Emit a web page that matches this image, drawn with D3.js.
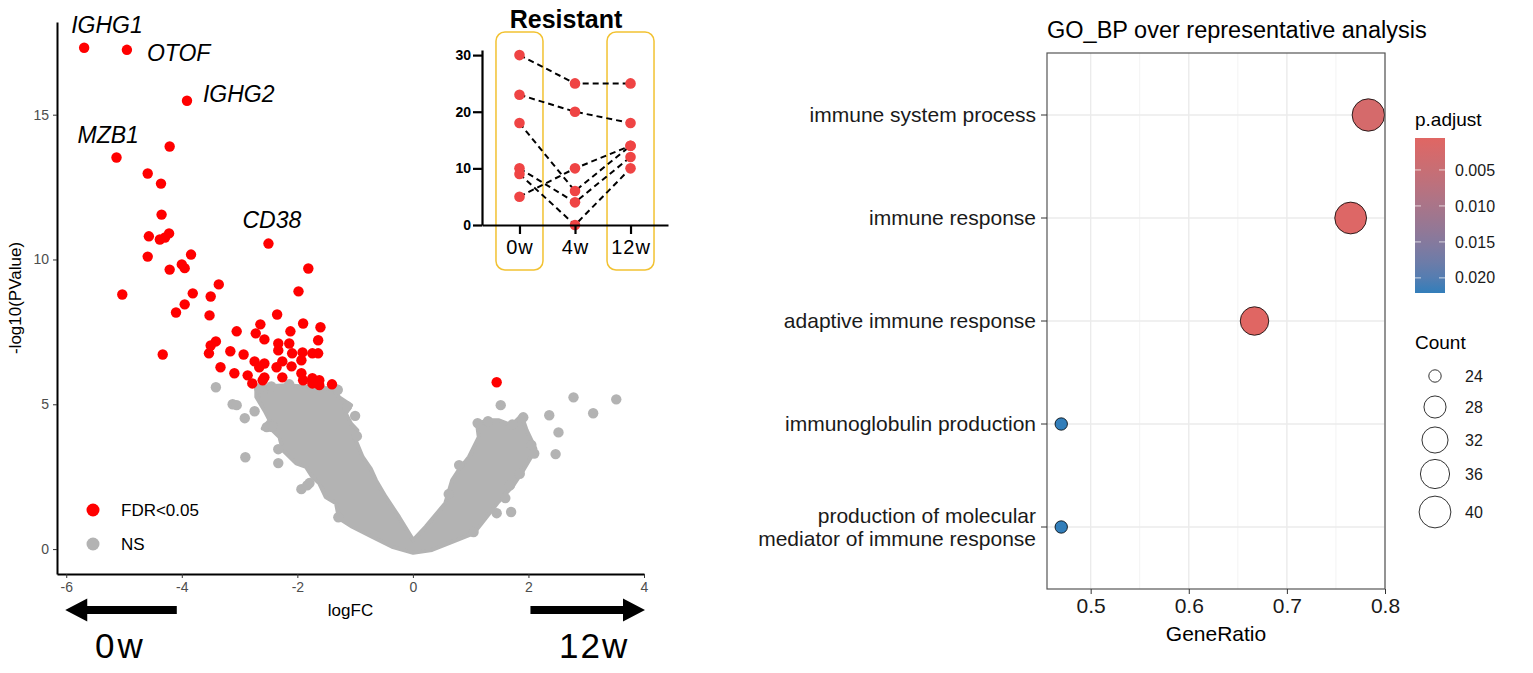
<!DOCTYPE html>
<html lang="en">
  <head>
    <meta charset="UTF-8" />
    <title>volcano + GO_BP dotplot</title>
    <script src="https://d3js.org/d3.v7.min.js"></script>
    <style>
      body { margin: 0; background: #fff; }
      svg { display: block; font-family: "Liberation Sans", Arial, sans-serif; }
    </style>
  </head>
  <body>
    <svg width="1533" height="673"></svg>

    <script>
      // ---------- volcano: significant genes [logFC, -log10(P)] ----------
      const sigPoints = [
        [-5.69, 17.31], [-4.95, 17.24], [-3.91, 15.48], [-5.13, 13.52], [-4.21, 13.9],
        [-4.59, 12.97], [-4.36, 12.62], [-4.35, 11.55], [-4.57, 10.8], [-4.38, 10.69],
        [-4.29, 10.76], [-4.22, 10.9], [-4.59, 10.1], [-3.84, 10.17], [-4.0, 9.83],
        [-3.95, 9.7], [-4.21, 9.65], [-2.5, 10.55], [-1.81, 9.69], [-5.03, 8.79],
        [-3.36, 9.14], [-3.81, 8.83], [-3.5, 8.72], [-1.98, 8.9], [-3.95, 8.45],
        [-4.1, 8.17], [-3.52, 8.07], [-2.35, 8.1], [-2.64, 7.76], [-1.9, 7.79],
        [-1.6, 7.66], [-3.05, 7.52], [-2.72, 7.45], [-2.12, 7.52], [-2.57, 7.24],
        [-1.64, 7.21], [-3.41, 7.17], [-3.5, 7.03], [-2.33, 7.1], [-2.14, 7.1],
        [-4.33, 6.72], [-3.53, 6.76], [-3.16, 6.83], [-2.93, 6.72], [-2.33, 6.86],
        [-2.09, 6.76], [-1.91, 6.79], [-1.74, 6.76], [-1.64, 6.76], [-2.74, 6.48],
        [-2.57, 6.41], [-2.26, 6.48], [-1.93, 6.52], [-3.33, 6.28], [-2.66, 6.28],
        [-2.36, 6.28], [-2.1, 6.31], [-3.09, 6.07], [-2.86, 6.0], [-2.57, 5.93],
        [-2.26, 5.93], [-1.93, 6.07], [-2.78, 5.72], [-2.6, 5.83], [-1.9, 5.83],
        [-1.74, 5.9], [-1.62, 5.83], [-1.62, 5.66], [-1.4, 5.69], [-1.74, 5.72],
        [1.45, 5.76]
      ];
      // NS genes lying outside / on the edge of the dense cloud
      const nsPoints = [
        [-3.41, 5.59], [-3.12, 5.0], [-3.05, 4.97], [-2.91, 4.52], [-2.74, 4.76],
        [-2.9, 3.17], [-2.33, 3.45], [-2.33, 2.97], [-1.93, 2.07], [-1.79, 2.28],
        [-2.53, 4.21], [-2.43, 4.24], [-1.29, 1.1], [-1.14, 4.93], [-2.14, 5.69],
        [-2.6, 5.41], [2.78, 5.24], [3.52, 5.17], [3.12, 4.69], [2.36, 4.62],
        [2.52, 4.03], [2.47, 3.28], [1.52, 4.97], [1.6, 1.76], [1.7, 1.28],
        [1.45, 1.24], [1.91, 4.55], [1.05, 0.59], [-1.83, 2.2], [-2.66, 5.55],
        [-2.45, 5.62], [-1.3, 5.5], [-1.0, 4.6], [-0.97, 3.9], [1.12, 4.35],
        [1.3, 4.42], [1.72, 4.3], [2.05, 3.6], [2.1, 3.3], [1.85, 2.6],
        [1.68, 2.2], [0.62, 1.9], [0.8, 2.9]
      ];
      // outline of the dense NS cloud (thousands of overlapping points)
      const nsCloud = [
        [0.005, -0.13], [-0.36, 0.08], [-0.7, 0.42], [-1.05, 0.77], [-1.28, 1.06],
        [-1.33, 1.58], [-1.51, 1.8], [-1.62, 2.27], [-1.74, 2.49], [-1.85, 2.84],
        [-2.02, 2.96], [-2.25, 3.41], [-2.31, 3.87], [-2.43, 4.1], [-2.6, 4.16],
        [-2.48, 4.45], [-2.57, 4.79], [-2.71, 5.25], [-2.71, 5.6], [-2.19, 5.66],
        [-1.36, 5.54], [-1.28, 5.25], [-1.07, 4.97], [-1.16, 4.68], [-1.07, 4.33],
        [-0.96, 4.1], [-0.99, 3.76], [-0.87, 3.18], [-0.73, 2.78], [-0.64, 2.38],
        [-0.47, 1.8], [-0.24, 1.11], [0.005, 0.31], [0.22, 0.77], [0.56, 1.58],
        [0.68, 2.38], [0.79, 2.72], [0.97, 3.18], [1.14, 3.87], [1.11, 4.33],
        [1.31, 4.45], [1.48, 4.45], [1.71, 4.28], [1.88, 4.62], [1.97, 4.1],
        [2.12, 3.47], [2.03, 3.13], [1.91, 2.72], [1.74, 2.21], [1.48, 1.63],
        [1.19, 0.89], [1.05, 0.54], [0.68, 0.25], [0.33, -0.03]
      ];
      const geneNames = ["IGHG1", "OTOF", "IGHG2", "MZB1", "CD38"];
      const geneLogFC = [-5.69, -4.95, -3.91, -5.13, -2.5];
      const geneNegLogP = [17.31, 17.24, 15.48, 13.52, 10.55];
      const volcanoXTicks = [-6, -4, -2, 0, 2, 4];
      const volcanoYTicks = [0, 5, 10, 15];
      const volcanoLegend = ["FDR<0.05", "NS"];

      // ---------- inset: Resistant ----------
      const timepoints = ["0w", "4w", "12w"];
      const patientValues = [
        [30, 25, 25],
        [23, 20, 18],
        [18, 6, 14],
        [10, 4, 12],
        [9, 0, 10],
        [5, 10, 14]
      ];
      const insetYTicks = [0, 10, 20, 30];

      // ---------- GO_BP dotplot ----------
      const goTerms = [
        "immune system process",
        "immune response",
        "adaptive immune response",
        "immunoglobulin production",
        "production of molecular mediator of immune response"
      ];
      const geneRatio = [0.783, 0.765, 0.667, 0.47, 0.47];
      const geneCount = [41, 40, 35, 24, 24];
      const pAdjust = [0.0025, 0.0012, 0.00056, 0.0221, 0.0221];
      const ratioTicks = [0.5, 0.6, 0.7, 0.8];
      const ratioMinor = [0.55, 0.65, 0.75];
      const pTicks = [0.005, 0.01, 0.015, 0.02];
      const countBreaks = [24, 28, 32, 36, 40];

      const svg = d3.select("svg");
      svg.append("rect").attr("width", 1533).attr("height", 673).attr("fill", "white");

      // ================= volcano =================
      const x = d3.scaleLinear().domain([-6.16, 4]).range([57, 644]);
      const y = d3.scaleLinear().domain([-0.86, 18.2]).range([574, 22]);
      const volcano = svg.append("g");

      volcano
        .append("path")
        .datum(nsCloud)
        .attr("d", d3.line().x((d) => x(d[0])).y((d) => y(d[1])).curve(d3.curveLinearClosed))
        .attr("fill", "#b3b3b3")
        .attr("stroke", "#b3b3b3")
        .attr("stroke-width", 4)
        .attr("stroke-linejoin", "round");

      volcano
        .selectAll(".ns")
        .data(nsPoints)
        .enter()
        .append("circle")
        .attr("cx", (d) => x(d[0]))
        .attr("cy", (d) => y(d[1]))
        .attr("r", 5.2)
        .attr("fill", "#b3b3b3");

      volcano
        .selectAll(".sig")
        .data(sigPoints)
        .enter()
        .append("circle")
        .attr("cx", (d) => x(d[0]))
        .attr("cy", (d) => y(d[1]))
        .attr("r", 5.2)
        .attr("fill", "#ff0000");

      // gene labels, nudged like ggrepel did
      const nudge = [[-13, -15], [20, 11], [16, 1], [-39, -15], [-26, -16]];
      volcano
        .selectAll(".gene")
        .data(geneNames)
        .enter()
        .append("text")
        .attr("x", (d, i) => x(geneLogFC[i]) + nudge[i][0])
        .attr("y", (d, i) => y(geneNegLogP[i]) + nudge[i][1])
        .attr("font-size", 23)
        .attr("font-style", "italic")
        .text((d) => d);

      const xAxis = volcano
        .append("g")
        .attr("transform", "translate(0,574)")
        .call(d3.axisBottom(x).tickValues(volcanoXTicks).tickSize(4).tickSizeOuter(0).tickPadding(4).tickFormat((d) => String(d)));
      const yAxis = volcano
        .append("g")
        .attr("transform", "translate(57,0)")
        .call(d3.axisLeft(y).tickValues(volcanoYTicks).tickSize(4).tickSizeOuter(0).tickPadding(4).tickFormat((d) => String(d)));
      [xAxis, yAxis].forEach((a) => {
        a.select(".domain").attr("stroke", "black").attr("stroke-width", 2);
        a.selectAll(".tick line").attr("stroke", "#333");
        a.selectAll(".tick text").attr("fill", "#4d4d4d").attr("font-size", 14).attr("font-family", "Liberation Sans, Arial");
      });

      volcano
        .append("text")
        .attr("transform", "translate(21,298) rotate(-90)")
        .attr("text-anchor", "middle")
        .attr("font-size", 17)
        .text("-log10(PValue)");
      volcano
        .append("text")
        .attr("x", (57 + 644) / 2)
        .attr("y", 616)
        .attr("text-anchor", "middle")
        .attr("font-size", 17)
        .text("logFC");

      // legend
      const legendColors = ["#ff0000", "#b3b3b3"];
      volcanoLegend.forEach((lab, i) => {
        volcano.append("circle").attr("cx", 93).attr("cy", 510 + i * 34).attr("r", 6.5).attr("fill", legendColors[i]);
        volcano
          .append("text")
          .attr("x", 121)
          .attr("y", 510 + i * 34)
          .attr("dy", "0.35em")
          .attr("font-size", 17)
          .text(lab);
      });

      // direction arrows
      const arrowY = 610;
      const leftTip = x(-6) - 1, leftTail = x(-4) - 5;
      const rightTail = x(2) + 2, rightTip = x(4) + 1;
      volcano
        .append("path")
        .attr("d", `M${leftTail},${arrowY - 4}H${leftTip + 22}V${arrowY - 11.5}L${leftTip},${arrowY}L${leftTip + 22},${arrowY + 11.5}V${arrowY + 4}H${leftTail}Z`)
        .attr("fill", "black");
      volcano
        .append("path")
        .attr("d", `M${rightTail},${arrowY - 4}H${rightTip - 22}V${arrowY - 11.5}L${rightTip},${arrowY}L${rightTip - 22},${arrowY + 11.5}V${arrowY + 4}H${rightTail}Z`)
        .attr("fill", "black");
      volcano.append("text").attr("x", 95).attr("y", 658).attr("font-size", 35).attr("letter-spacing", 3).text("0w");
      volcano.append("text").attr("x", 559).attr("y", 658).attr("font-size", 35).attr("letter-spacing", 2).text("12w");

      // ================= inset =================
      const ix = d3.scalePoint().domain(timepoints).range([482, 668]).padding(0.675);
      const iy = d3.scaleLinear().domain([0, 30.9]).range([225, 50]);
      const inset = svg.append("g");

      ["0w", "12w"].forEach((t) => {
        inset
          .append("rect")
          .attr("x", ix(t) - 23.5)
          .attr("y", 32)
          .attr("width", 47)
          .attr("height", 238)
          .attr("rx", 9)
          .attr("fill", "none")
          .attr("stroke", "#f2c232")
          .attr("stroke-width", 1.5);
      });

      inset
        .selectAll(".pair")
        .data(patientValues)
        .enter()
        .append("path")
        .attr("d", d3.line().x((d, i) => ix(timepoints[i])).y((d) => iy(d)))
        .attr("fill", "none")
        .attr("stroke", "black")
        .attr("stroke-width", 2)
        .attr("stroke-dasharray", "6,4");

      patientValues.forEach((vals) => {
        inset
          .selectAll(null)
          .data(vals)
          .enter()
          .append("circle")
          .attr("cx", (d, i) => ix(timepoints[i]))
          .attr("cy", (d) => iy(d))
          .attr("r", 5.3)
          .attr("fill", "#ef4444");
      });

      const ixAxis = inset
        .append("g")
        .attr("transform", "translate(0,225)")
        .call(d3.axisBottom(ix).tickSize(9).tickSizeOuter(0).tickPadding(6));
      const iyAxis = inset
        .append("g")
        .attr("transform", "translate(482,0)")
        .call(d3.axisLeft(iy).tickValues(insetYTicks).tickSize(9).tickSizeOuter(0).tickPadding(2));
      [ixAxis, iyAxis].forEach((a) => {
        a.select(".domain").attr("stroke", "black").attr("stroke-width", 2.2);
        a.selectAll(".tick line").attr("stroke", "black").attr("stroke-width", 2.2);
        a.selectAll(".tick text").attr("fill", "black").attr("font-family", "Liberation Sans, Arial");
      });
      ixAxis.selectAll(".tick text").attr("font-size", 20).attr("letter-spacing", 1);
      iyAxis.selectAll(".tick text").attr("font-size", 14).attr("font-weight", "bold");

      inset
        .append("text")
        .attr("x", 566)
        .attr("y", 28)
        .attr("text-anchor", "middle")
        .attr("font-size", 25)
        .attr("font-weight", "bold")
        .text("Resistant");

      // ================= GO_BP dotplot =================
      const panel = { left: 1047, right: 1385, top: 53, bottom: 589 };
      const gx = d3.scaleLinear().domain([0.4555, 0.8]).range([panel.left, panel.right]);
      const gy = d3.scalePoint().domain(goTerms).range([115, 527]);
      const pColor = d3
        .scaleLinear()
        .domain([0.00056, 0.0221])
        .range(["#e06663", "#327eba"])
        .interpolate(d3.interpolateLab);
      const countMin = 24, countMax = 41;
      const rScale = d3.scaleSqrt().domain([0, countMax - countMin]).range([6.2, 16.2]);

      const go = svg.append("g");

      go.selectAll(".minor")
        .data(ratioMinor)
        .enter()
        .append("line")
        .attr("x1", (d) => gx(d))
        .attr("x2", (d) => gx(d))
        .attr("y1", panel.top)
        .attr("y2", panel.bottom)
        .attr("stroke", "#f3f3f3")
        .attr("stroke-width", 1);
      go.selectAll(".major")
        .data(ratioTicks)
        .enter()
        .append("line")
        .attr("x1", (d) => gx(d))
        .attr("x2", (d) => gx(d))
        .attr("y1", panel.top)
        .attr("y2", panel.bottom)
        .attr("stroke", "#ebebeb")
        .attr("stroke-width", 1.4);
      go.selectAll(".hgrid")
        .data(goTerms)
        .enter()
        .append("line")
        .attr("x1", panel.left)
        .attr("x2", panel.right)
        .attr("y1", (d) => gy(d))
        .attr("y2", (d) => gy(d))
        .attr("stroke", "#ebebeb")
        .attr("stroke-width", 1.4);

      go.selectAll(".dot")
        .data(goTerms)
        .enter()
        .append("circle")
        .attr("cx", (d, i) => gx(geneRatio[i]))
        .attr("cy", (d) => gy(d))
        .attr("r", (d, i) => rScale(geneCount[i] - countMin))
        .attr("fill", (d, i) => pColor(pAdjust[i]))
        .attr("stroke", "black")
        .attr("stroke-width", 0.8);

      go.append("rect")
        .attr("x", panel.left)
        .attr("y", panel.top)
        .attr("width", panel.right - panel.left)
        .attr("height", panel.bottom - panel.top)
        .attr("fill", "none")
        .attr("stroke", "#555")
        .attr("stroke-width", 1.2);

      // y axis (terms)
      goTerms.forEach((term) => {
        go.append("line")
          .attr("x1", panel.left - 6)
          .attr("x2", panel.left)
          .attr("y1", gy(term))
          .attr("y2", gy(term))
          .attr("stroke", "#333");
        let lines = [term];
        if (term.length > 30) {
          const mid = term.length / 2;
          let best = -1;
          for (let k = 0; k < term.length; k++) {
            if (term[k] === " " && (best < 0 || Math.abs(k - mid) < Math.abs(best - mid))) best = k;
          }
          lines = [term.slice(0, best), term.slice(best + 1)];
        }
        const t = go
          .append("text")
          .attr("x", panel.left - 11)
          .attr("y", gy(term))
          .attr("text-anchor", "end")
          .attr("font-size", 21)
          .attr("fill", "#1a1a1a");
        lines.forEach((ln, k) => {
          t.append("tspan")
            .attr("x", panel.left - 11)
            .attr("dy", k === 0 ? (0.35 - (lines.length - 1) * 0.55) + "em" : "1.1em")
            .text(ln);
        });
      });

      // x axis
      const gxAxis = go
        .append("g")
        .attr("transform", `translate(0,${panel.bottom})`)
        .call(d3.axisBottom(gx).tickValues(ratioTicks).tickSize(5).tickSizeOuter(0).tickPadding(4).tickFormat(d3.format(".1f")));
      gxAxis.select(".domain").remove();
      gxAxis.selectAll(".tick line").attr("stroke", "#333");
      gxAxis.selectAll(".tick text").attr("fill", "#1a1a1a").attr("font-size", 21).attr("font-family", "Liberation Sans, Arial");

      go.append("text")
        .attr("x", (panel.left + panel.right) / 2)
        .attr("y", 641)
        .attr("text-anchor", "middle")
        .attr("font-size", 21)
        .text("GeneRatio");
      go.append("text")
        .attr("x", panel.left)
        .attr("y", 38)
        .attr("font-size", 23.5)
        .text("GO_BP over representative analysis");

      // p.adjust colourbar
      const barY = d3.scaleLinear().domain([0.00056, 0.0221]).range([138, 293]);
      const grad = svg.append("defs").append("linearGradient").attr("id", "pgrad").attr("x1", 0).attr("x2", 0).attr("y1", 0).attr("y2", 1);
      d3.range(0, 1.0001, 0.1).forEach((f) => {
        grad.append("stop")
          .attr("offset", f)
          .attr("stop-color", pColor(barY.invert(138 + f * 155)));
      });
      go.append("text").attr("x", 1415).attr("y", 126).attr("font-size", 19).text("p.adjust");
      go.append("rect").attr("x", 1415).attr("y", 138).attr("width", 30).attr("height", 155).attr("fill", "url(#pgrad)");
      pTicks.forEach((p) => {
        [[1415, 1421], [1439, 1445]].forEach(([a, b]) => {
          go.append("line").attr("x1", a).attr("x2", b).attr("y1", barY(p)).attr("y2", barY(p)).attr("stroke", "white").attr("stroke-opacity", 0.7);
        });
        go.append("text")
          .attr("x", 1455)
          .attr("y", barY(p))
          .attr("dy", "0.35em")
          .attr("font-size", 16)
          .attr("fill", "#1a1a1a")
          .text(d3.format(".3f")(p));
      });

      // Count legend
      go.append("text").attr("x", 1415).attr("y", 349).attr("font-size", 19).text("Count");
      const countY = [376, 407, 440, 474, 512];
      countBreaks.forEach((c, i) => {
        go.append("circle")
          .attr("cx", 1435)
          .attr("cy", countY[i])
          .attr("r", rScale(c - countMin))
          .attr("fill", "none")
          .attr("stroke", "#333")
          .attr("stroke-width", 1);
        go.append("text")
          .attr("x", 1465)
          .attr("y", countY[i])
          .attr("dy", "0.35em")
          .attr("font-size", 16)
          .attr("fill", "#1a1a1a")
          .text(c);
      });
    </script>
  </body>
</html>
